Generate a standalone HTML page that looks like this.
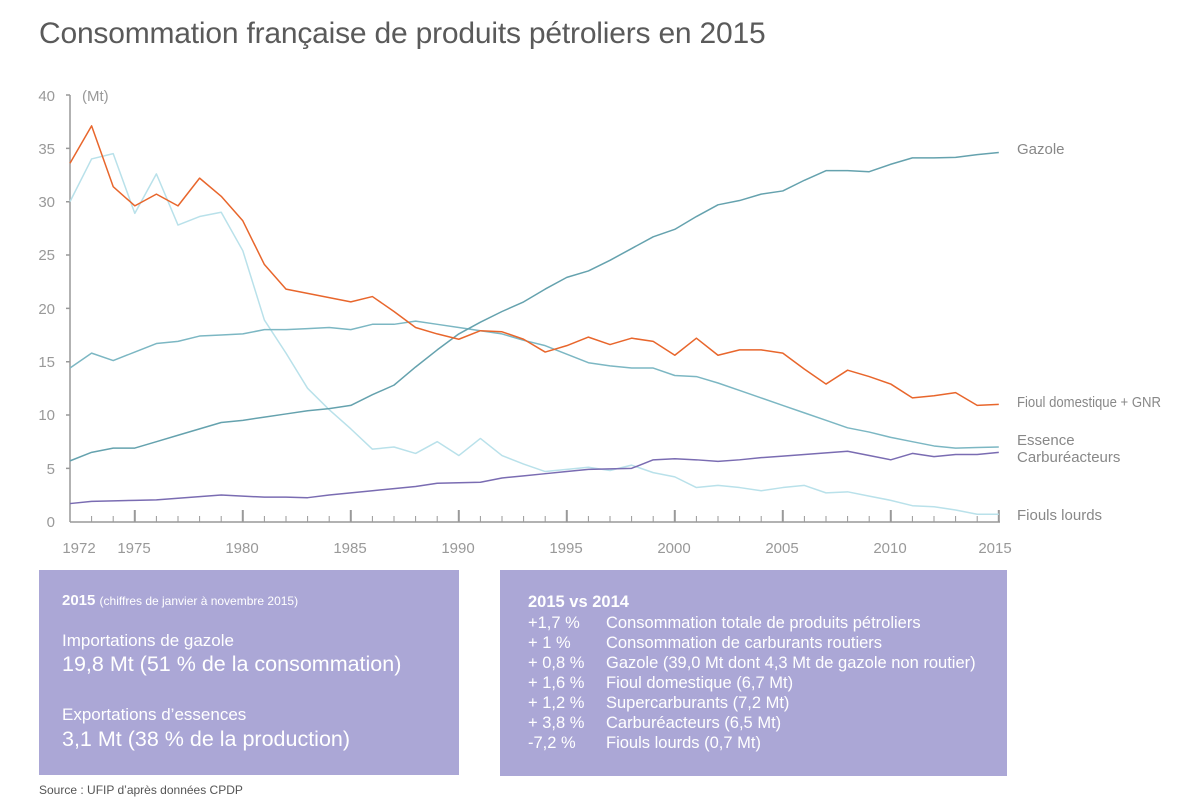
<!DOCTYPE html>
<html><head><meta charset="utf-8"><style>
body{margin:0;background:#fff;font-family:"Liberation Sans",sans-serif}
.box{position:absolute;background:#aba7d6;color:#fff}
</style></head><body>
<div style="position:relative;width:1200px;height:807px;overflow:hidden">
<div style="position:absolute;left:39px;top:17px;font-size:30px;color:#5a5a5a;letter-spacing:-0.2px">Consommation française de produits pétroliers en 2015</div>
<svg width="1200" height="807" style="position:absolute;left:0;top:0" font-family="Liberation Sans, sans-serif">
<g fill="#999" font-size="15" text-anchor="end">
<text x="55" y="101">40</text><text x="55" y="154">35</text><text x="55" y="207">30</text><text x="55" y="260">25</text><text x="55" y="314">20</text><text x="55" y="367">15</text><text x="55" y="420">10</text><text x="55" y="474">5</text><text x="55" y="527">0</text>
</g>
<text x="82" y="101" fill="#999" font-size="15">(Mt)</text>
<g stroke="#999" stroke-width="1.5">
<line x1="70" y1="95" x2="70" y2="522"/><line x1="70" y1="522" x2="1000" y2="522"/>
<path d="M66 95H70M66 148.4H70M66 201.7H70M66 255H70M66 308.4H70M66 361.7H70M66 415H70M66 468.4H70"/>
</g>
<g stroke="#999" stroke-width="1">
<path d="M91.6 522v-6M113.2 522v-6M156.4 522v-6M178 522v-6M199.6 522v-6M221.2 522v-6M264.4 522v-6M286 522v-6M307.6 522v-6M329.2 522v-6M372.4 522v-6M394 522v-6M415.6 522v-6M437.2 522v-6M480.4 522v-6M502 522v-6M523.6 522v-6M545.2 522v-6M588.4 522v-6M610 522v-6M631.6 522v-6M653.2 522v-6M696.4 522v-6M718 522v-6M739.6 522v-6M761.2 522v-6M804.4 522v-6M826 522v-6M847.6 522v-6M869.2 522v-6M912.4 522v-6M934 522v-6M955.6 522v-6M977.2 522v-6"/>
</g>
<g stroke="#999" stroke-width="2">
<path d="M134.8 522v-12M242.8 522v-12M350.8 522v-12M458.8 522v-12M566.8 522v-12M674.8 522v-12M782.8 522v-12M890.8 522v-12M998.8 522v-12"/>
</g>
<g fill="#999" font-size="15" text-anchor="middle">
<text x="79" y="553">1972</text><text x="134" y="553">1975</text><text x="242" y="553">1980</text><text x="350" y="553">1985</text><text x="458" y="553">1990</text><text x="566" y="553">1995</text><text x="674" y="553">2000</text><text x="782" y="553">2005</text><text x="890" y="553">2010</text><text x="995" y="553">2015</text>
</g>
<g transform="translate(70,521.7) scale(21.6,-10.67)" fill="none" stroke-width="1.5" stroke-linejoin="round">
<polyline vector-effect="non-scaling-stroke" stroke="#b9e1ea" points="0,30 1,34 2,34.5 3,28.9 4,32.6 5,27.8 6,28.6 7,29 8,25.4 9,18.9 10,15.8 11,12.5 12,10.5 13,8.7 14,6.8 15,7 16,6.4 17,7.5 18,6.2 19,7.8 20,6.2 21,5.4 22,4.7 23,4.9 24,5.1 25,4.8 26,5.3 27,4.6 28,4.2 29,3.2 30,3.4 31,3.2 32,2.9 33,3.2 34,3.4 35,2.7 36,2.8 37,2.4 38,2 39,1.5 40,1.4 41,1.1 42,0.7 43,0.7"/>
<polyline vector-effect="non-scaling-stroke" stroke="#7cb7c3" points="0,14.4 1,15.8 2,15.1 3,15.9 4,16.7 5,16.9 6,17.4 7,17.5 8,17.6 9,18 10,18 11,18.1 12,18.2 13,18 14,18.5 15,18.5 16,18.8 17,18.5 18,18.2 19,17.9 20,17.6 21,17 22,16.5 23,15.7 24,14.9 25,14.6 26,14.4 27,14.4 28,13.7 29,13.6 30,13 31,12.3 32,11.6 33,10.9 34,10.2 35,9.5 36,8.8 37,8.4 38,7.9 39,7.5 40,7.1 41,6.9 42,6.95 43,7"/>
<polyline vector-effect="non-scaling-stroke" stroke="#65a2ae" points="0,5.7 1,6.5 2,6.9 3,6.9 4,7.5 5,8.1 6,8.7 7,9.3 8,9.5 9,9.8 10,10.1 11,10.4 12,10.6 13,10.9 14,11.9 15,12.8 16,14.5 17,16.1 18,17.6 19,18.7 20,19.7 21,20.6 22,21.8 23,22.9 24,23.5 25,24.5 26,25.6 27,26.7 28,27.4 29,28.6 30,29.7 31,30.1 32,30.7 33,31 34,32 35,32.9 36,32.9 37,32.8 38,33.5 39,34.1 40,34.1 41,34.15 42,34.4 43,34.6"/>
<polyline vector-effect="non-scaling-stroke" stroke="#7a6cb2" points="0,1.7 1,1.9 2,1.95 3,2 4,2.05 5,2.2 6,2.35 7,2.5 8,2.4 9,2.3 10,2.3 11,2.25 12,2.5 13,2.7 14,2.9 15,3.1 16,3.3 17,3.6 18,3.65 19,3.7 20,4.1 21,4.3 22,4.5 23,4.7 24,4.9 25,4.95 26,5 27,5.8 28,5.9 29,5.8 30,5.65 31,5.8 32,6 33,6.15 34,6.3 35,6.45 36,6.6 37,6.2 38,5.8 39,6.4 40,6.1 41,6.3 42,6.3 43,6.5"/>
<polyline vector-effect="non-scaling-stroke" stroke="#e8662c" points="0,33.6 1,37.1 2,31.4 3,29.6 4,30.7 5,29.6 6,32.2 7,30.5 8,28.2 9,24.1 10,21.8 11,21.4 12,21 13,20.6 14,21.1 15,19.7 16,18.2 17,17.6 18,17.1 19,17.9 20,17.8 21,17.1 22,15.9 23,16.5 24,17.3 25,16.6 26,17.2 27,16.9 28,15.6 29,17.2 30,15.6 31,16.1 32,16.1 33,15.8 34,14.3 35,12.9 36,14.2 37,13.6 38,12.9 39,11.6 40,11.8 41,12.1 42,10.9 43,11"/>
</g>
<g fill="#888" font-size="15">
<text x="1017" y="154">Gazole</text><text x="1017" y="407" textLength="144" lengthAdjust="spacingAndGlyphs">Fioul domestique + GNR</text><text x="1017" y="445">Essence</text><text x="1017" y="462">Carburéacteurs</text><text x="1017" y="520">Fiouls lourds</text>
</g>
</svg>
<div class="box" style="left:39px;top:570px;width:420px;height:205px">
<div style="position:absolute;left:23px;top:22px;font-size:15px;white-space:nowrap"><b>2015</b> <span style="font-size:12px">(chiffres de janvier à novembre 2015)</span></div>
<div style="position:absolute;left:23px;top:61px;font-size:17px">Importations de gazole</div>
<div style="position:absolute;left:23px;top:82px;font-size:21.5px;white-space:nowrap">19,8 Mt (51 % de la consommation)</div>
<div style="position:absolute;left:23px;top:135px;font-size:17px">Exportations d’essences</div>
<div style="position:absolute;left:23px;top:157px;font-size:21.5px;white-space:nowrap">3,1 Mt (38 % de la production)</div>
</div>
<div class="box" style="left:500px;top:570px;width:507px;height:206px;font-size:16.5px;line-height:20px">
<div style="position:absolute;left:28px;top:22px;font-weight:bold">2015 vs 2014</div>
<div style="position:absolute;left:28px;top:43px;white-space:nowrap">+1,7 %<br>+ 1 %<br>+ 0,8 %<br>+ 1,6 %<br>+ 1,2 %<br>+ 3,8 %<br>-7,2 %</div>
<div style="position:absolute;left:106px;top:43px;white-space:nowrap">Consommation totale de produits pétroliers<br>Consommation de carburants routiers<br>Gazole (39,0 Mt dont 4,3 Mt de gazole non routier)<br>Fioul domestique (6,7 Mt)<br>Supercarburants (7,2 Mt)<br>Carburéacteurs (6,5 Mt)<br>Fiouls lourds (0,7 Mt)</div>
</div>
<div style="position:absolute;left:39px;top:783px;font-size:12px;color:#555">Source : UFIP d’après données CPDP</div>
</div>
</body></html>
